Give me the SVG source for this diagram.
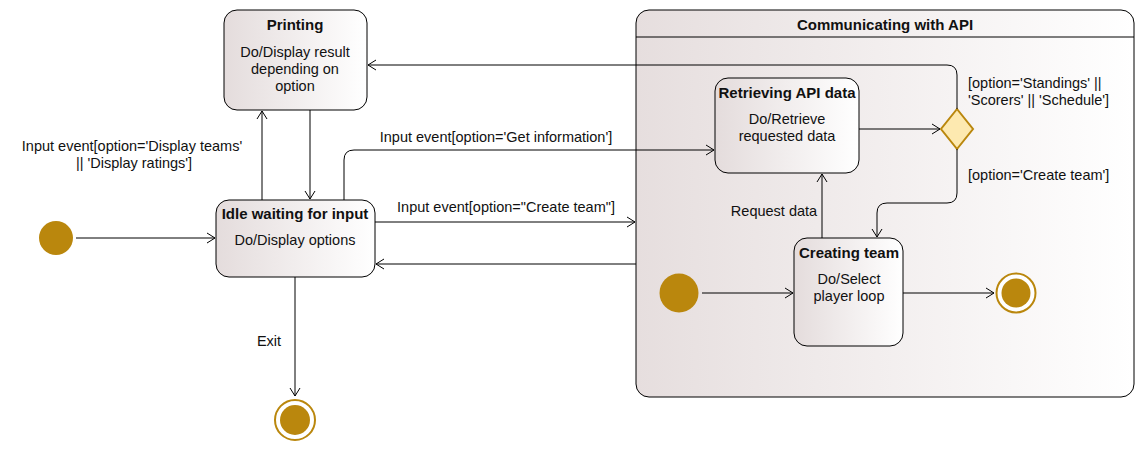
<svg xmlns="http://www.w3.org/2000/svg" width="1146" height="455" viewBox="0 0 1146 455">
<defs>
<linearGradient id="g" x1="0" y1="0" x2="1" y2="0">
<stop offset="0" stop-color="#E4DCDC"/>
<stop offset="1" stop-color="#FFFFFF"/>
</linearGradient>
<linearGradient id="gc" x1="0" y1="0" x2="1" y2="0">
<stop offset="0" stop-color="#E6DEDE"/>
<stop offset="1" stop-color="#FFFFFF"/>
</linearGradient>
<marker id="a" markerWidth="12" markerHeight="12" refX="10" refY="6" orient="auto" markerUnits="userSpaceOnUse">
<path d="M2,1 L10,6 L2,11" fill="none" stroke="#000" stroke-width="1"/>
</marker>
</defs>
<style>
text{font-family:"Liberation Sans",Arial,sans-serif;font-size:14.5px;fill:#111;}
.t{font-weight:bold;font-size:15px;}
.m{text-anchor:middle;}
.st{fill:url(#g);stroke:#000;stroke-width:1;}
.c{fill:none;stroke:#000;stroke-width:1;marker-end:url(#a);}
.ini{fill:#BA870D;}
.fo{fill:#fff;stroke:#BA870D;stroke-width:2;}
</style>
<rect width="1146" height="455" fill="#fff"/>

<g id="composite">
<rect x="636" y="10" width="498" height="387" rx="13" fill="url(#gc)" stroke="#000"/>
<line x1="636" y1="37" x2="1134" y2="37" stroke="#000"/>
<text class="t m" x="885" y="30">Communicating with API</text>
</g>

<g id="printing">
<rect class="st" x="224" y="10" width="143" height="100" rx="13"/>
<text class="t m" x="295" y="30">Printing</text>
<text class="m" x="295" y="57">Do/Display result</text>
<text class="m" x="295" y="74">depending on</text>
<text class="m" x="295" y="91">option</text>
</g>

<g id="idle">
<rect class="st" x="216" y="200" width="159" height="77" rx="13"/>
<text class="t m" x="295" y="219">Idle waiting for input</text>
<text class="m" x="295" y="245">Do/Display options</text>
</g>

<g id="retrieving">
<rect class="st" x="715" y="78" width="144" height="95" rx="13"/>
<text class="t m" x="787" y="98">Retrieving API data</text>
<text class="m" x="787" y="124">Do/Retrieve</text>
<text class="m" x="787" y="141">requested data</text>
</g>

<g id="creating">
<rect class="st" x="794" y="238" width="109" height="108" rx="13"/>
<text class="t m" x="849" y="258">Creating team</text>
<text class="m" x="849" y="284">Do/Select</text>
<text class="m" x="849" y="301">player loop</text>
</g>

<g id="init1"><circle class="ini" cx="56" cy="238" r="17"/></g>
<g id="final1"><circle class="fo" cx="295" cy="420" r="20"/><circle class="ini" cx="295" cy="420" r="15"/></g>
<g id="init2"><circle class="ini" cx="679" cy="293" r="19.5"/></g>
<g id="final2"><circle class="fo" cx="1016" cy="293" r="19.5"/><circle class="ini" cx="1016" cy="293" r="14.5"/></g>
<g id="choice"><path d="M957,109 L973,129 L957,149 L941,129 Z" fill="#FDE9B0" stroke="#BA870D" stroke-width="2"/></g>

<g id="connectors">
<path class="c" d="M76,238 H215"/>
<path class="c" d="M262,200 V111"/>
<path class="c" d="M310,110 V199"/>
<path class="c" d="M344,200 V160 Q344,150 354,150 H714"/>
<path class="c" d="M375,222 H635"/>
<path class="c" d="M636,264 H376"/>
<path class="c" d="M295,277 V396"/>
<path class="c" d="M859,129 H940"/>
<path class="c" d="M957,109 V75 Q957,65 947,65 H368"/>
<path class="c" d="M957,149 V193 Q957,203 947,203 H887 Q877,203 877,213 V237"/>
<path class="c" d="M822,238 V174"/>
<path class="c" d="M702,293 H793"/>
<path class="c" d="M903,293 H994"/>
</g>

<g id="labels">
<text class="m" x="132" y="151">Input event[option='Display teams'</text>
<text class="m" x="134" y="168">|| 'Display ratings']</text>
<text class="m" x="496" y="142">Input event[option='Get information']</text>
<text class="m" x="506" y="212">Input event[option="Create team"]</text>
<text class="m" x="269" y="346">Exit</text>
<text x="968" y="88">[option='Standings' ||</text>
<text x="968" y="105">'Scorers' || 'Schedule']</text>
<text x="968" y="180">[option='Create team']</text>
<text class="m" x="774" y="216">Request data</text>
</g>
</svg>
